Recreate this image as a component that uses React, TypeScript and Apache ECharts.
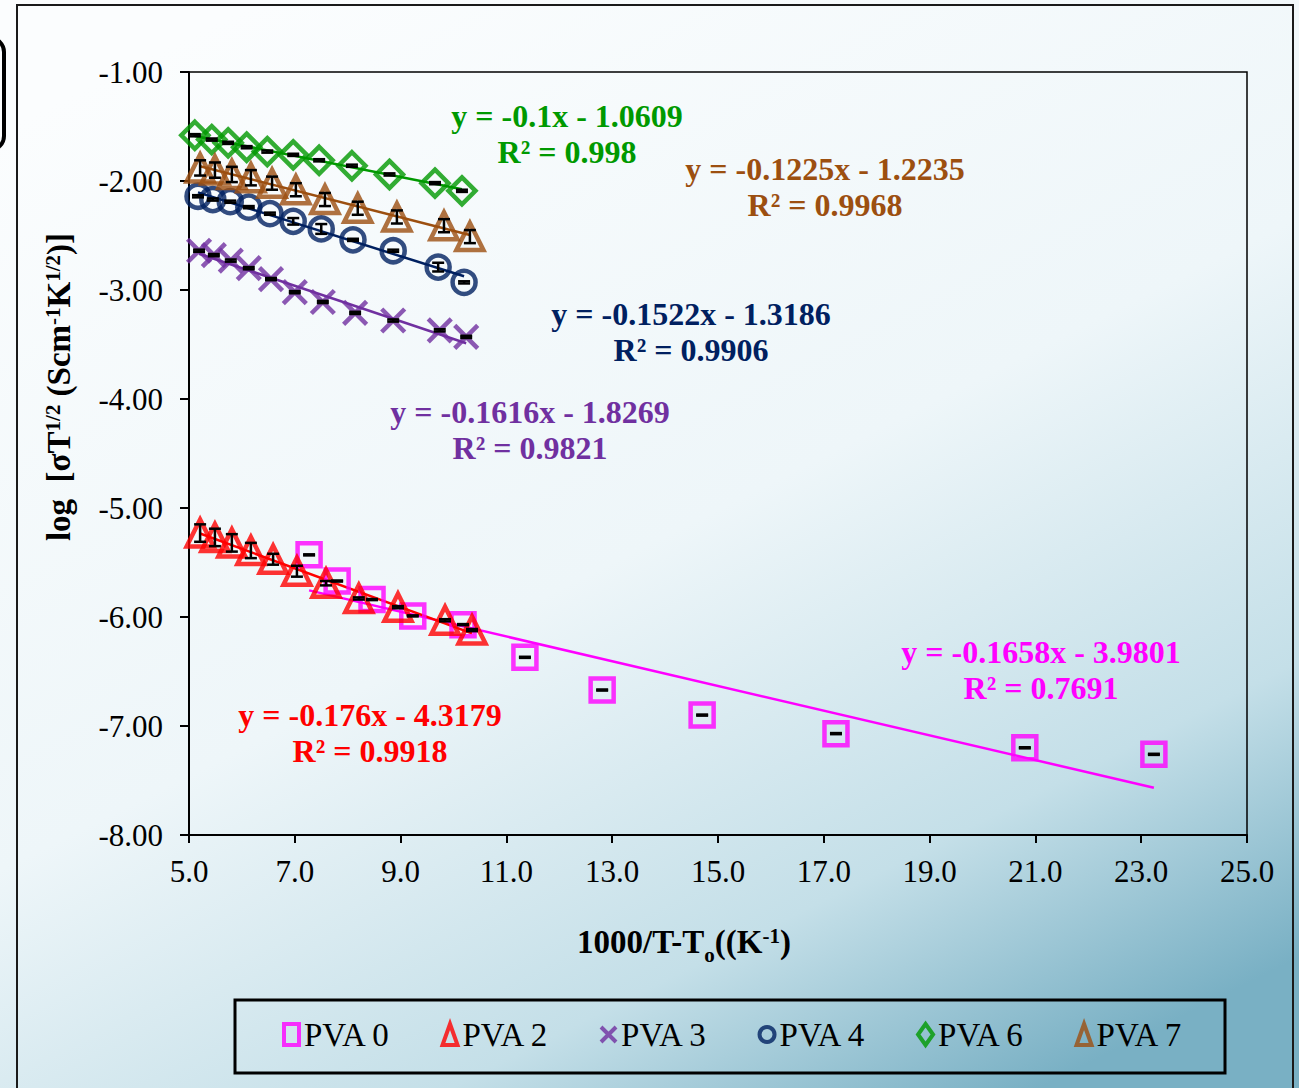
import React, { useEffect, useRef } from "react";
import * as echarts from "echarts";

const seriesNames = ["PVA 0", "PVA 2", "PVA 3", "PVA 4", "PVA 6", "PVA 7"];
const seriesColors = ["#ff00ff", "#ff0000", "#7030a0", "#002060", "#009900", "#9c4f10"];

const xPVA0 = [7.27, 7.8, 8.46, 9.23, 10.18, 11.35, 12.81, 14.7, 17.23, 20.8, 23.24];
const yPVA0 = [-5.43, -5.67, -5.84, -5.99, -6.07, -6.37, -6.67, -6.9, -7.07, -7.2, -7.26];
const ePVA0 = [0.005, 0.005, 0.005, 0.005, 0.005, 0.005, 0.005, 0.005, 0.005, 0.005, 0.005];

const xPVA2 = [5.21, 5.49, 5.81, 6.17, 6.59, 7.04, 7.59, 8.21, 8.95, 9.84, 10.35];
const yPVA2 = [-5.23, -5.27, -5.32, -5.39, -5.47, -5.58, -5.69, -5.83, -5.91, -6.03, -6.12];
const ePVA2 = [0.08, 0.08, 0.08, 0.07, 0.05, 0.05, 0.02, 0.01, 0.01, 0.01, 0.01];

const xPVA3 = [5.19, 5.47, 5.79, 6.13, 6.55, 7.0, 7.53, 8.14, 8.86, 9.74, 10.24];
const yPVA3 = [-2.64, -2.68, -2.73, -2.8, -2.9, -3.02, -3.11, -3.21, -3.28, -3.37, -3.43];
const ePVA3 = [0.01, 0.01, 0.01, 0.01, 0.01, 0.01, 0.01, 0.01, 0.01, 0.01, 0.01];

const xPVA4 = [5.17, 5.45, 5.78, 6.13, 6.53, 6.97, 7.5, 8.1, 8.86, 9.71, 10.2];
const yPVA4 = [-2.14, -2.17, -2.19, -2.24, -2.3, -2.37, -2.44, -2.54, -2.64, -2.79, -2.93];
const ePVA4 = [0.01, 0.01, 0.01, 0.01, 0.01, 0.03, 0.045, 0.01, 0.01, 0.04, 0.01];

const xPVA6 = [5.11, 5.43, 5.74, 6.09, 6.48, 6.97, 7.46, 8.08, 8.79, 9.65, 10.16];
const yPVA6 = [-1.58, -1.62, -1.65, -1.69, -1.73, -1.76, -1.81, -1.86, -1.94, -2.02, -2.09];
const ePVA6 = [0.01, 0.01, 0.01, 0.01, 0.01, 0.01, 0.01, 0.01, 0.01, 0.01, 0.01];

const xPVA7 = [5.21, 5.49, 5.81, 6.17, 6.57, 7.02, 7.57, 8.19, 8.93, 9.82, 10.31];
const yPVA7 = [-1.88, -1.9, -1.94, -1.97, -2.02, -2.08, -2.17, -2.25, -2.33, -2.41, -2.51];
const ePVA7 = [0.07, 0.07, 0.07, 0.07, 0.06, 0.06, 0.06, 0.06, 0.06, 0.06, 0.06];

const equations = [
  "y = -0.1658x - 3.9801",
  "y = -0.176x - 4.3179",
  "y = -0.1616x - 1.8269",
  "y = -0.1522x - 1.3186",
  "y = -0.1x - 1.0609",
  "y = -0.1225x - 1.2235",
];
const rSquared = ["R² = 0.7691", "R² = 0.9918", "R² = 0.9821", "R² = 0.9906", "R² = 0.998", "R² = 0.9968"];

const xTicksMin = 5;
const xTicksMax = 25;
const yTicksMin = -8;
const yTicksMax = -1;

const allX = [xPVA0, xPVA2, xPVA3, xPVA4, xPVA6, xPVA7];
const allY = [yPVA0, yPVA2, yPVA3, yPVA4, yPVA6, yPVA7];
const allE = [ePVA0, ePVA2, ePVA3, ePVA4, ePVA6, ePVA7];

const eqPos = [
  [1041, 652],
  [370, 715],
  [530, 412],
  [691, 314],
  [567, 116],
  [825, 169],
];

const symbols = [
  "rect",
  "triangle",
  "path://M0,0L10,10M10,0L0,10",
  "circle",
  "diamond",
  "triangle",
];
const symbolSizes = [23, 27, 23, 23, 27, 27];

function regression(xs: number[], ys: number[]) {
  const n = xs.length;
  const mx = xs.reduce((a, b) => a + b, 0) / n;
  const my = ys.reduce((a, b) => a + b, 0) / n;
  let sxy = 0;
  let sxx = 0;
  for (let i = 0; i < n; i++) {
    sxy += (xs[i] - mx) * (ys[i] - my);
    sxx += (xs[i] - mx) * (xs[i] - mx);
  }
  const m = sxy / sxx;
  const b = my - m * mx;
  const x0 = Math.min(...xs);
  const x1 = Math.max(...xs);
  return [
    [x0, m * x0 + b],
    [x1, m * x1 + b],
  ];
}

export default function App() {
  const ref = useRef<HTMLDivElement>(null);
  useEffect(() => {
    document.body.style.margin = "0";
    const chart = echarts.init(ref.current!, null, { renderer: "svg" });
    const font = "Liberation Serif";
    const series: any[] = [];
    seriesNames.forEach((name, i) => {
      const pts = allX[i].map((x, j) => [x, allY[i][j]]);
      series.push({
        name: name + " fit",
        type: "line",
        data: regression(allX[i], allY[i]),
        symbol: "none",
        silent: true,
        lineStyle: { color: seriesColors[i], width: 2.5 },
        z: 2,
      });
      series.push({
        name,
        type: "scatter",
        data: pts,
        symbol: symbols[i],
        symbolSize: symbolSizes[i],
        itemStyle: {
          color: "rgba(255,255,255,0)",
          borderColor: seriesColors[i],
          borderWidth: 4.5,
        },
        z: 3,
      });
      series.push({
        name: name + " err",
        type: "custom",
        data: allX[i].map((x, j) => [x, allY[i][j], allE[i][j]]),
        encode: { x: 0, y: 1 },
        silent: true,
        z: 4,
        renderItem: (params: any, api: any) => {
          const x = api.value(0);
          const y = api.value(1);
          const e = api.value(2);
          const top = api.coord([x, y + e]);
          const bot = api.coord([x, y - e]);
          const cx = top[0];
          const hw = 6;
          const st = { stroke: "#000", lineWidth: 2.5 };
          return {
            type: "group",
            children: [
              { type: "line", shape: { x1: cx, y1: top[1], x2: cx, y2: bot[1] }, style: st },
              { type: "line", shape: { x1: cx - hw, y1: top[1], x2: cx + hw, y2: top[1] }, style: st },
              { type: "line", shape: { x1: cx - hw, y1: bot[1], x2: cx + hw, y2: bot[1] }, style: st },
            ],
          };
        },
      });
    });

    const eqGraphics: any[] = [];
    seriesNames.forEach((_, i) => {
      eqGraphics.push({
        type: "text",
        x: eqPos[i][0],
        y: eqPos[i][1],
        z: 10,
        style: {
          text: equations[i],
          fill: seriesColors[i],
          font: `bold 32px "${font}"`,
          textAlign: "center",
          textVerticalAlign: "middle",
        },
      });
      eqGraphics.push({
        type: "text",
        x: eqPos[i][0],
        y: eqPos[i][1] + 36,
        z: 10,
        style: {
          text: rSquared[i],
          fill: seriesColors[i],
          font: `bold 32px "${font}"`,
          textAlign: "center",
          textVerticalAlign: "middle",
        },
      });
    });

    const option: any = {
      animation: false,
      backgroundColor: new echarts.graphic.LinearGradient(0.2, 0, 0.8, 1, [
        { offset: 0, color: "#fbfdfe" },
        { offset: 0.5, color: "#eef6f9" },
        { offset: 0.8, color: "#c4dfe8" },
        { offset: 1, color: "#79b0c4" },
      ]),
      grid: {
        left: 189,
        right: 52,
        top: 72,
        bottom: 253,
        show: true,
        borderColor: "#000",
        borderWidth: 1.5,
        backgroundColor: "transparent",
      },
      xAxis: {
        type: "value",
        min: xTicksMin,
        max: xTicksMax,
        interval: 2,
        axisLine: { onZero: false, lineStyle: { color: "#000", width: 2 } },
        axisTick: { inside: false, length: 8, lineStyle: { color: "#000", width: 2 } },
        splitLine: { show: false },
        axisLabel: {
          formatter: (v: number) => v.toFixed(1),
          fontFamily: font,
          fontSize: 31,
          color: "#000",
          margin: 21,
        },
      },
      yAxis: {
        type: "value",
        min: yTicksMin,
        max: yTicksMax,
        interval: 1,
        axisLine: { onZero: false, lineStyle: { color: "#000", width: 2 } },
        axisTick: { inside: false, length: 9, lineStyle: { color: "#000", width: 2 } },
        splitLine: { show: false },
        axisLabel: {
          formatter: (v: number) => v.toFixed(2),
          fontFamily: font,
          fontSize: 31,
          color: "#000",
          margin: 26,
        },
      },
      legend: {
        data: seriesNames,
        left: 282,
        top: 1018,
        itemWidth: 15,
        itemHeight: 21,
        itemGap: 50,
        padding: 0,
        textStyle: { fontFamily: font, fontSize: 33, color: "#000" },
        itemStyle: { borderWidth: 4 },
      },
      graphic: [
        {
          type: "rect",
          shape: { x: 17, y: 5, width: 1276, height: 1110 },
          style: { fill: "none", stroke: "#1a1a1a", lineWidth: 2 },
          silent: true,
        },
        {
          type: "rect",
          shape: { x: -30, y: 38, width: 34, height: 112, r: 14 },
          style: { fill: "none", stroke: "#000", lineWidth: 4 },
          silent: true,
        },
        {
          type: "rect",
          shape: { x: 235, y: 1000, width: 990, height: 73 },
          style: { fill: "none", stroke: "#000", lineWidth: 3 },
          silent: true,
        },
        {
          type: "text",
          x: 684,
          y: 942,
          style: {
            text: "{b|1000/T-T}{sub|o}{b|((K}{sup|-1}{b|)}",
            textAlign: "center",
            textVerticalAlign: "middle",
            rich: {
              b: { font: `bold 33px "${font}"`, fill: "#000", lineHeight: 34 },
              sub: { font: `bold 21px "${font}"`, fill: "#000", verticalAlign: "top", lineHeight: 21, padding: [19, 0, 0, 0] },
              sup: { font: `bold 21px "${font}"`, fill: "#000", verticalAlign: "top" },
            },
          },
        },
        {
          type: "text",
          x: 59,
          y: 387,
          rotation: Math.PI / 2,
          style: {
            text: "{b|log  [σT}{sup|1/2}{b| (Scm}{sup|-1}{b|K}{sup|1/2}{b|)]}",
            textAlign: "center",
            textVerticalAlign: "middle",
            rich: {
              b: { font: `bold 33px "${font}"`, fill: "#000", lineHeight: 34 },
              sup: { font: `bold 21px "${font}"`, fill: "#000", verticalAlign: "top" },
            },
          },
        },
        ...eqGraphics,
      ],
      series,
    };
    chart.setOption(option);
    return () => chart.dispose();
  }, []);
  return <div ref={ref} style={{ width: 1299, height: 1088 }} />;
}
